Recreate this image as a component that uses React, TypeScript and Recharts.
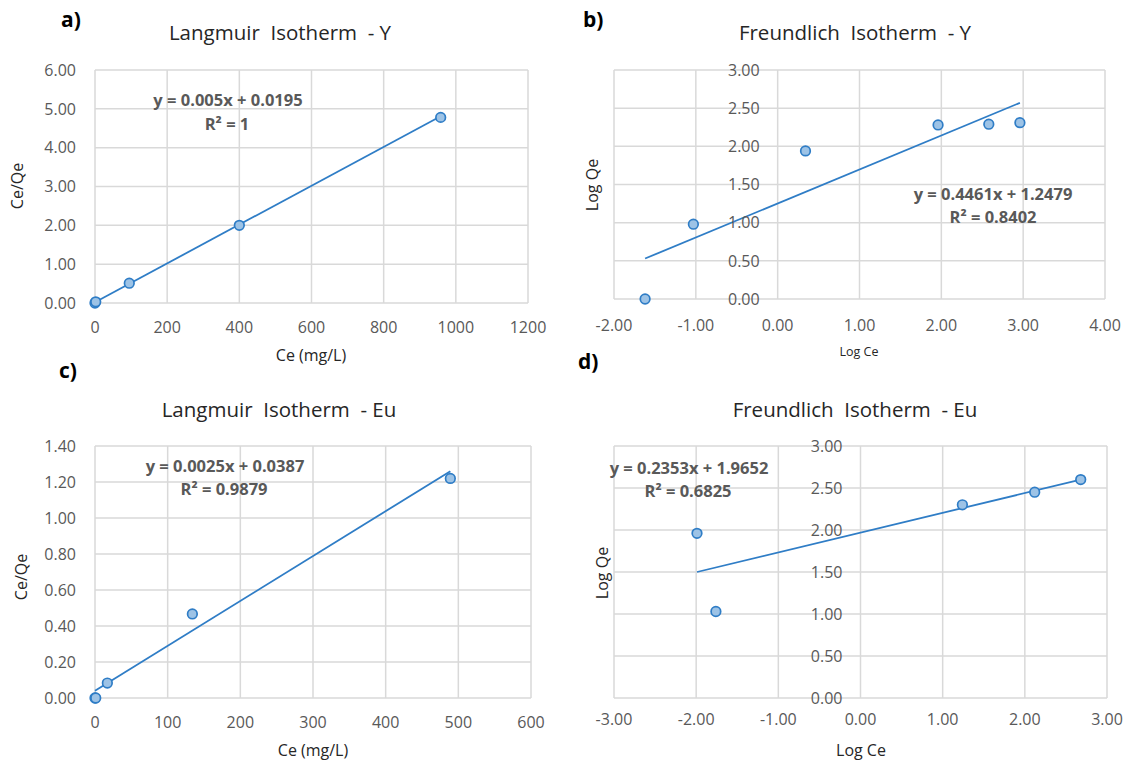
import { CartesianGrid, Scatter, ScatterChart, XAxis, YAxis } from "recharts";

// a) Langmuir - Y
const langYCe = [0, 2, 95, 400, 958];
const langYRatio = [0.0, 0.03, 0.51, 2.0, 4.78];
const langYTrendX = [0, 958];
const langYTrendY = [0.02, 4.81];
const langYXTicks = [0, 200, 400, 600, 800, 1000, 1200];
const langYYTicks = [0, 1, 2, 3, 4, 5, 6];

// b) Freundlich - Y
const freYLogCe = [-1.62, -1.03, 0.34, 1.96, 2.58, 2.96];
const freYLogQe = [0.0, 0.98, 1.94, 2.28, 2.29, 2.31];
const freYTrendX = [-1.62, 2.96];
const freYTrendY = [0.53, 2.57];
const freYXTicks = [-2, -1, 0, 1, 2, 3, 4];
const freYYTicks = [0, 0.5, 1, 1.5, 2, 2.5, 3];

// c) Langmuir - Eu
const langEuCe = [0, 1, 17, 134, 489];
const langEuRatio = [0.0, 0.0, 0.083, 0.467, 1.22];
const langEuTrendX = [0, 489];
const langEuTrendY = [0.04, 1.26];
const langEuXTicks = [0, 100, 200, 300, 400, 500, 600];
const langEuYTicks = [0, 0.2, 0.4, 0.6, 0.8, 1.0, 1.2, 1.4];

// d) Freundlich - Eu
const freEuLogCe = [-1.99, -1.76, 1.24, 2.12, 2.68];
const freEuLogQe = [1.96, 1.03, 2.3, 2.45, 2.6];
const freEuTrendX = [-1.99, 2.68];
const freEuTrendY = [1.5, 2.6];
const freEuXTicks = [-3, -2, -1, 0, 1, 2, 3];
const freEuYTicks = [0, 0.5, 1, 1.5, 2, 2.5, 3];

const FONT = "'Open Sans', sans-serif";
const LINE = "#2F7DC6";
const GRID = "#D9D9D9";
const TICK = "#595959";
const Y_AXIS_W = 40;
const X_AXIS_H = 30;

const zip = (xs: number[], ys: number[]) => xs.map((x, i) => ({ x, y: ys[i] }));

const Marker = (p: any) => (
  <circle cx={p.cx} cy={p.cy} r={4.8} fill="#9DC3E6" stroke={LINE} strokeWidth={1.7} />
);

type PanelProps = {
  ox: number;
  oy: number;
  w: number;
  h: number;
  box: { l: number; r: number; t: number; b: number };
  xTicks: number[];
  yTicks: number[];
  xFmt: (v: number) => string;
  points: { x: number; y: number }[];
  trend: { x: number; y: number }[];
  cross?: boolean;
  xGap: number;
};

function Panel({ ox, oy, w, h, box, xTicks, yTicks, xFmt, points, trend, cross, xGap }: PanelProps) {
  const margin = {
    left: box.l - ox - Y_AXIS_W,
    top: box.t - oy,
    right: ox + w - box.r,
    bottom: oy + h - box.b - X_AXIS_H,
  };
  const xMin = xTicks[0];
  const xMax = xTicks[xTicks.length - 1];
  const plotL = box.l - ox;
  const plotB = box.b - oy;
  const plotW = box.r - box.l;
  const zeroX = plotL + ((0 - xMin) / (xMax - xMin)) * plotW;
  const labelX = cross ? zeroX - 18 : plotL - 19;

  const XTick = (p: any) => (
    <text x={p.x} y={plotB + xGap} dy="0.71em" textAnchor="middle" fontSize={16} fontFamily={FONT} fill={TICK}>
      {xFmt(Number(p.payload.value))}
    </text>
  );
  const YTick = (p: any) => (
    <text x={labelX} y={p.y} dy="0.355em" textAnchor="end" fontSize={16} fontFamily={FONT} fill={TICK}>
      {Number(p.payload.value).toFixed(2)}
    </text>
  );

  return (
    <div style={{ position: "absolute", left: ox, top: oy }}>
      <ScatterChart width={w} height={h} margin={margin}>
        <CartesianGrid stroke={GRID} strokeWidth={1.5} />
        <XAxis
          type="number"
          dataKey="x"
          domain={[xMin, xMax]}
          ticks={xTicks}
          interval={0}
          height={X_AXIS_H}
          axisLine={false}
          tickLine={false}
          tick={<XTick />}
        />
        <YAxis
          type="number"
          dataKey="y"
          domain={[yTicks[0], yTicks[yTicks.length - 1]]}
          ticks={yTicks}
          interval={0}
          width={Y_AXIS_W}
          axisLine={false}
          tickLine={false}
          tick={<YTick />}
        />
        <Scatter
          data={trend}
          line={{ stroke: LINE, strokeWidth: 1.8 }}
          shape={() => <g />}
          isAnimationActive={false}
        />
        <Scatter data={points} shape={Marker} isAnimationActive={false} />
      </ScatterChart>
    </div>
  );
}

const txt = { fontFamily: FONT };

export default function App() {
  return (
    <div style={{ position: "absolute", left: 0, top: 0, width: 1130, height: 767, background: "#fff", fontFamily: FONT }}>
      <Panel
        ox={0} oy={0} w={565} h={380}
        box={{ l: 95, r: 528, t: 70, b: 303 }}
        xTicks={langYXTicks} yTicks={langYYTicks}
        xFmt={(v) => String(v)}
        points={zip(langYCe, langYRatio)}
        trend={zip(langYTrendX, langYTrendY)}
        xGap={19}
      />
      <Panel
        ox={565} oy={0} w={565} h={380}
        box={{ l: 614, r: 1105, t: 70, b: 299 }}
        xTicks={freYXTicks} yTicks={freYYTicks}
        xFmt={(v) => v.toFixed(2)}
        points={zip(freYLogCe, freYLogQe)}
        trend={zip(freYTrendX, freYTrendY)}
        cross
        xGap={21}
      />
      <Panel
        ox={0} oy={383} w={565} h={384}
        box={{ l: 95, r: 531, t: 446, b: 698 }}
        xTicks={langEuXTicks} yTicks={langEuYTicks}
        xFmt={(v) => String(v)}
        points={zip(langEuCe, langEuRatio)}
        trend={zip(langEuTrendX, langEuTrendY)}
        xGap={19}
      />
      <Panel
        ox={565} oy={383} w={565} h={384}
        box={{ l: 614, r: 1107, t: 446, b: 698 }}
        xTicks={freEuXTicks} yTicks={freEuYTicks}
        xFmt={(v) => v.toFixed(2)}
        points={zip(freEuLogCe, freEuLogQe)}
        trend={zip(freEuTrendX, freEuTrendY)}
        cross
        xGap={16}
      />
      <svg width={1130} height={767} style={{ position: "absolute", left: 0, top: 0, pointerEvents: "none" }}>
        <g style={txt} fill="#000" fontWeight="bold" fontSize={21}>
          <text x={61} y={27}>a)</text>
          <text x={583} y={27}>b)</text>
          <text x={59} y={378}>c)</text>
          <text x={578} y={369}>d)</text>
        </g>
        <g style={txt} fill="#262626" fontSize={20.5} textAnchor="middle">
          <text x={280} y={40} xmlSpace="preserve">Langmuir  Isotherm  - Y</text>
          <text x={855} y={40} xmlSpace="preserve">Freundlich  Isotherm  - Y</text>
          <text x={279} y={417} xmlSpace="preserve">Langmuir  Isotherm  - Eu</text>
          <text x={855} y={417} xmlSpace="preserve">Freundlich  Isotherm  - Eu</text>
        </g>
        <g style={txt} fill="#262626" fontSize={16} textAnchor="middle" dominantBaseline="central">
          <text x={311} y={355}>Ce (mg/L)</text>
          <text x={859} y={351} fontSize={12.5}>Log Ce</text>
          <text x={313} y={750}>Ce (mg/L)</text>
          <text x={861} y={750}>Log Ce</text>
          <text x={17} y={186} transform="rotate(-90 17 186)">Ce/Qe</text>
          <text x={592} y={185} transform="rotate(-90 592 185)">Log Qe</text>
          <text x={21} y={577} transform="rotate(-90 21 577)">Ce/Qe</text>
          <text x={602} y={573} transform="rotate(-90 602 573)">Log Qe</text>
        </g>
        <g style={txt} fill="#595959" fontWeight="bold" fontSize={16.5} textAnchor="middle" dominantBaseline="central">
          <text x={228} y={99}>y = 0.005x + 0.0195</text>
          <text x={227} y={123}>R² = 1</text>
          <text x={993} y={193}>y = 0.4461x + 1.2479</text>
          <text x={993} y={216}>R² = 0.8402</text>
          <text x={225} y={465}>y = 0.0025x + 0.0387</text>
          <text x={224} y={488}>R² = 0.9879</text>
          <text x={689} y={467}>y = 0.2353x + 1.9652</text>
          <text x={688} y={490}>R² = 0.6825</text>
        </g>
      </svg>
    </div>
  );
}
